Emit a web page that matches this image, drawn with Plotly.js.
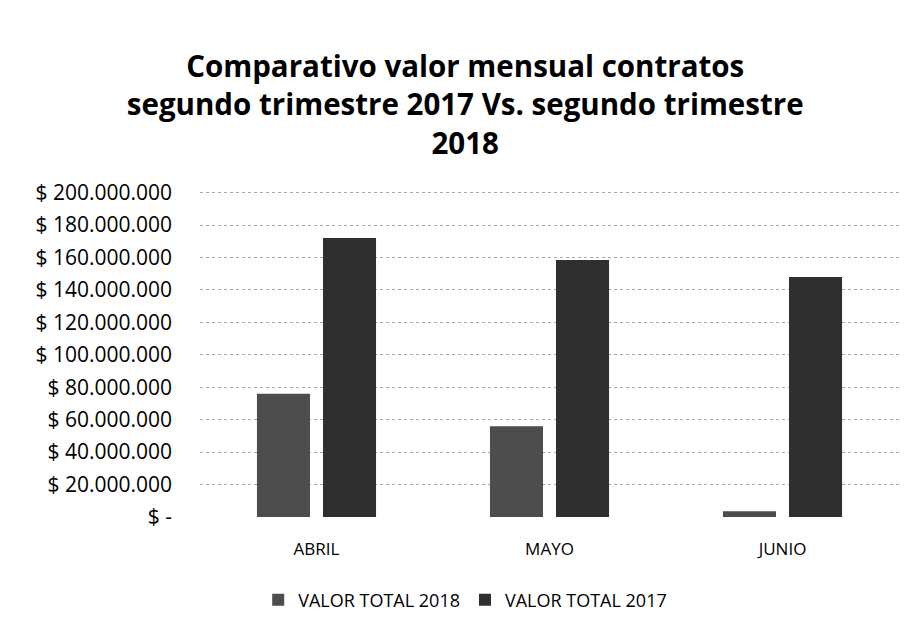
<!DOCTYPE html>
<html>
<head>
<meta charset="utf-8">
<script src="https://cdn.plot.ly/plotly-3.0.1.min.js"></script>
<style>
html,body{margin:0;padding:0;background:#fff;}
#chart{width:914px;height:632px;}
</style>
</head>
<body>
<div id="chart"></div>
<script>
const categories = ['ABRIL', 'MAYO', 'JUNIO'];
const valor2018 = [76000000, 56000000, 3500000];
const valor2017 = [172000000, 158500000, 148000000];
const tickValues = [0, 20000000, 40000000, 60000000, 80000000, 100000000, 120000000, 140000000, 160000000, 180000000, 200000000];
const tickLabels = ['$ -', '$ 20.000.000', '$ 40.000.000', '$ 60.000.000', '$ 80.000.000', '$ 100.000.000', '$ 120.000.000', '$ 140.000.000', '$ 160.000.000', '$ 180.000.000', '$ 200.000.000'];
const seriesNames = ['VALOR TOTAL 2018', 'VALOR TOTAL 2017'];

const font = '"Open Sans", Lato, sans-serif';

const data = [
  {type: 'bar', x: categories, y: valor2018, name: seriesNames[0],
   marker: {color: '#4d4d4d', line: {width: 0}}, hoverinfo: 'skip'},
  {type: 'bar', x: categories, y: valor2017, name: seriesNames[1],
   marker: {color: '#2f2f2f', line: {width: 0}}, hoverinfo: 'skip'}
];

const layout = {
  width: 914, height: 632,
  paper_bgcolor: '#ffffff', plot_bgcolor: '#ffffff',
  margin: {l: 200, r: 15, t: 191, b: 115},
  barmode: 'group', bargap: 0.433, bargroupgap: 0.197,
  font: {family: font, color: '#000'},
  title: {
    text: '<b>Comparativo valor mensual contratos<br>segundo trimestre 2017 Vs. segundo trimestre<br>2018</b>',
    font: {family: font, size: 29.5, color: '#000'},
    x: 0.509, xref: 'container', xanchor: 'center',
    y: 1 - 77/632, yref: 'container', yanchor: 'middle'
  },
  xaxis: {
    showgrid: false, zeroline: false, showline: false, ticks: '',
    ticklabelstandoff: 20,
    tickfont: {family: font, size: 17, color: '#000'}
  },
  yaxis: {
    range: [0, 201000000], tickmode: 'array', tickvals: tickValues, ticktext: tickLabels,
    showgrid: true, gridcolor: '#a8a8a8', griddash: 'dot', gridwidth: 1,
    zeroline: false, showline: false, ticks: '',
    ticklabelstandoff: 27,
    tickfont: {family: font, size: 21, color: '#000'}
  },
  showlegend: true,
  legend: {
    orientation: 'h', x: 0.509, xref: 'container', xanchor: 'center',
    y: 32/632, yref: 'container', yanchor: 'middle',
    font: {family: font, size: 18, color: '#000'},
    itemwidth: 30, traceorder: 'normal'
  }
};

Plotly.newPlot('chart', data, layout, {displayModeBar: false, staticPlot: true});
</script>
</body>
</html>
